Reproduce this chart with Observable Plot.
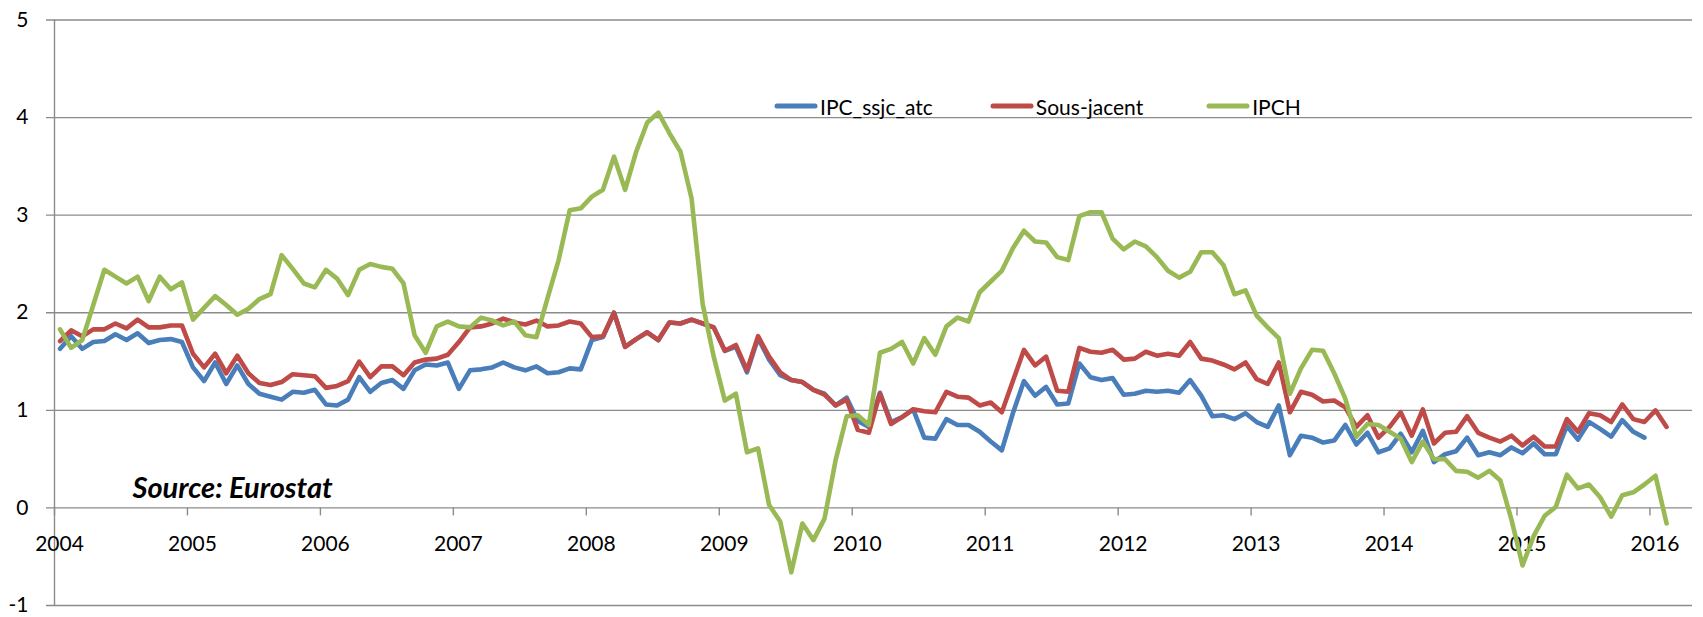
<!DOCTYPE html>
<html><head><meta charset="utf-8">
<script src="https://cdn.jsdelivr.net/npm/d3@7"></script>
<script src="https://cdn.jsdelivr.net/npm/@observablehq/plot@0.6"></script>
<style>
body{margin:0;background:#fff;}
#wrap{position:relative;width:1703px;height:617px;font-family:Lato,"Open Sans",sans-serif;color:#000;}
#legend{position:absolute;top:93px;left:774px;height:26px;display:flex;align-items:center;font-size:21px;white-space:nowrap;}
#legend .item{display:flex;align-items:center;}
#legend svg{margin-right:2px;}
</style></head><body><div id="wrap"><div id="legend"></div></div>
<script>
// ---- data (monthly, Jan 2004 onwards) ----
const startYear = 2004;
const seriesNames = ["IPC_ssjc_atc", "Sous-jacent", "IPCH"];
const ipcSsjcAtc = [1.63,1.76,1.63,1.70,1.71,1.78,1.72,1.79,1.69,1.72,1.73,1.70,
1.44,1.30,1.49,1.27,1.46,1.27,1.17,1.14,1.11,1.19,1.18,1.21,
1.06,1.05,1.11,1.34,1.19,1.28,1.31,1.22,1.41,1.47,1.46,1.49,
1.22,1.41,1.42,1.44,1.49,1.44,1.41,1.45,1.38,1.39,1.43,1.42,
1.72,1.75,2.00,1.65,1.73,1.80,1.72,1.90,1.89,1.93,1.89,1.85,
1.61,1.65,1.39,1.74,1.52,1.36,1.31,1.29,1.21,1.17,1.05,1.13,
0.89,0.83,1.18,0.88,0.93,1.01,0.72,0.71,0.91,0.85,0.85,0.78,
0.68,0.59,0.97,1.30,1.15,1.24,1.06,1.07,1.48,1.34,1.31,1.33,
1.16,1.17,1.20,1.19,1.20,1.18,1.31,1.15,0.94,0.95,0.91,0.97,
0.88,0.83,1.05,0.54,0.74,0.72,0.67,0.69,0.85,0.65,0.77,0.57,
0.61,0.76,0.57,0.79,0.47,0.55,0.58,0.72,0.54,0.57,0.54,0.62,
0.56,0.66,0.55,0.55,0.84,0.70,0.88,0.81,0.73,0.90,0.78,0.72];
const sousJacent = [1.71,1.82,1.76,1.83,1.83,1.89,1.84,1.93,1.85,1.85,1.87,1.87,
1.58,1.44,1.58,1.38,1.56,1.38,1.28,1.26,1.29,1.37,1.36,1.35,
1.23,1.25,1.30,1.50,1.34,1.45,1.45,1.36,1.49,1.52,1.53,1.57,
1.70,1.85,1.86,1.89,1.94,1.90,1.88,1.92,1.86,1.87,1.91,1.89,
1.75,1.76,2.00,1.65,1.73,1.80,1.72,1.90,1.89,1.93,1.89,1.85,
1.61,1.67,1.41,1.76,1.55,1.39,1.31,1.29,1.21,1.16,1.05,1.11,
0.80,0.77,1.17,0.86,0.93,1.01,0.99,0.98,1.19,1.14,1.13,1.05,
1.08,0.98,1.30,1.62,1.46,1.55,1.20,1.19,1.64,1.60,1.59,1.62,
1.52,1.53,1.60,1.56,1.58,1.56,1.70,1.53,1.51,1.47,1.42,1.49,
1.32,1.27,1.49,0.98,1.19,1.16,1.09,1.10,1.03,0.83,0.95,0.72,
0.83,0.98,0.74,1.01,0.66,0.77,0.78,0.94,0.77,0.72,0.68,0.74,
0.64,0.73,0.63,0.63,0.91,0.78,0.97,0.95,0.88,1.06,0.91,0.88,
1.00,0.83];
const ipch = [1.83,1.64,1.72,2.08,2.44,2.37,2.30,2.37,2.12,2.37,2.24,2.31,
1.93,2.05,2.17,2.08,1.98,2.04,2.14,2.19,2.59,2.45,2.30,2.26,
2.44,2.35,2.18,2.44,2.50,2.47,2.45,2.30,1.77,1.59,1.86,1.91,
1.86,1.85,1.95,1.92,1.87,1.91,1.77,1.75,2.15,2.54,3.05,3.07,
3.19,3.26,3.60,3.26,3.65,3.95,4.05,3.84,3.65,3.17,2.09,1.55,
1.10,1.17,0.57,0.61,0.03,-0.14,-0.66,-0.16,-0.33,-0.11,0.49,0.94,
0.95,0.85,1.59,1.63,1.70,1.48,1.74,1.57,1.86,1.95,1.91,2.21,
2.32,2.43,2.66,2.84,2.73,2.72,2.57,2.54,2.99,3.03,3.03,2.76,
2.65,2.73,2.68,2.57,2.43,2.36,2.42,2.62,2.62,2.49,2.19,2.23,
1.97,1.85,1.74,1.17,1.43,1.62,1.61,1.38,1.12,0.73,0.86,0.85,
0.78,0.71,0.47,0.68,0.50,0.50,0.38,0.37,0.31,0.38,0.28,-0.12,
-0.59,-0.29,-0.08,0.01,0.34,0.20,0.24,0.11,-0.09,0.13,0.16,0.24,
0.33,-0.16];
const yearTicks = [2004,2005,2006,2007,2008,2009,2010,2011,2012,2013,2014,2015,2016];
const yTicks = [-1,0,1,2,3,4,5];
const sourceText = "Source: Eurostat";
const colors = ["#4A7EBB", "#BE4B48", "#98B954"];
const gridColor = "#8b8b8b";

const rows = [];
[ipcSsjcAtc, sousJacent, ipch].forEach((arr, k) =>
  arr.forEach((v, i) => rows.push({series: seriesNames[k], t: startYear + (i + 0.5) / 12, v})));

const W = 1703, H = 617, mL = 54, mT = 19.5, mB = 12, mR = 11;
const xMax = 2016.32;
const pxPerUnitY = (H - mT - mB) / (yTicks[yTicks.length-1] - yTicks[0]);
const pxPerYear = (W - mL - mR) / (xMax - startYear);
const tickLenY = 8 / pxPerUnitY;
const tickLenX = 8 / pxPerYear;

const chart = Plot.plot({
  width: W, height: H,
  marginLeft: mL, marginTop: mT, marginBottom: mB, marginRight: mR,
  x: {domain: [startYear, xMax], axis: null},
  y: {domain: [yTicks[0], yTicks[yTicks.length-1]], axis: null},
  color: {domain: seriesNames, range: colors},
  style: {fontFamily: "Lato, 'Open Sans', sans-serif", fontSize: "21px", color: "#000", background: "#fff"},
  marks: [
    Plot.ruleY(yTicks, {y: d => d, x1: startYear - tickLenX, x2: xMax, stroke: gridColor, strokeWidth: 1.4}),
    Plot.ruleX([startYear], {y1: yTicks[0], y2: yTicks[yTicks.length-1], stroke: gridColor, strokeWidth: 1.4}),
    Plot.ruleX(yearTicks, {x: d => d, y1: 0, y2: -tickLenY, stroke: gridColor, strokeWidth: 1.4}),
    Plot.text(yTicks, {x: startYear, y: d => d, text: d => String(d), dx: -26, textAnchor: "end", fill: "#000", fontSize: 21}),
    Plot.text(yearTicks, {x: d => d, y: 0, text: d => String(d), dx: 5, dy: 36, fill: "#000", fontSize: 21}),
    Plot.lineY(rows, {x: "t", y: "v", z: "series", stroke: "series", strokeWidth: 4.6, strokeLinejoin: "round", strokeLinecap: "round"}),
    Plot.text([sourceText], {frameAnchor: "top-left", dx: 78, dy: 469, text: d => d, textAnchor: "start", lineAnchor: "middle", fontSize: 29, fontWeight: "bold", fontStyle: "italic", fill: "#000"})
  ]
});
document.getElementById("wrap").prepend(chart);

const legend = document.getElementById("legend");
const gaps = [0, 57, 63];
seriesNames.forEach((name, k) => {
  const item = document.createElement("div");
  item.className = "item";
  item.style.marginLeft = gaps[k] + "px";
  item.innerHTML = `<svg width="44" height="10"><line x1="3" y1="5" x2="41" y2="5" stroke="${colors[k]}" stroke-width="5" stroke-linecap="round"/></svg><span>${name}</span>`;
  legend.appendChild(item);
});
</script>
</body></html>
